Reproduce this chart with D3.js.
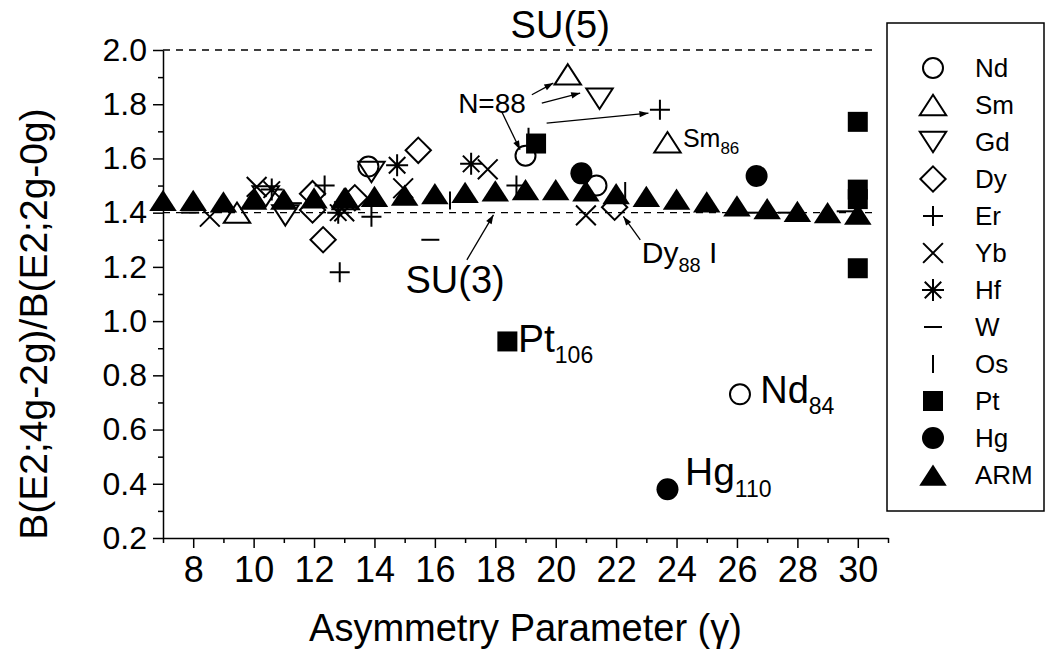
<!DOCTYPE html>
<html>
<head>
<meta charset="utf-8">
<script src="https://cdn.jsdelivr.net/npm/d3@7"></script>
<style>
  body { margin: 0; background: #fff; }
  svg { display: block; font-family: "Liberation Sans", Arial, sans-serif; }
</style>
</head>
<body>
<svg id="chart" width="1056" height="662"></svg>
<script>
// ---- data ----
const X_MAJOR = [8, 10, 12, 14, 16, 18, 20, 22, 24, 26, 28, 30];
const X_MINOR = [7, 9, 11, 13, 15, 17, 19, 21, 23, 25, 27, 29, 31];
const Y_MAJOR = [0.2, 0.4, 0.6, 0.8, 1.0, 1.2, 1.4, 1.6, 1.8, 2.0];
const Y_MINOR = [0.3, 0.5, 0.7, 0.9, 1.1, 1.3, 1.5, 1.7, 1.9];

const ndPts = [[13.8, 1.57], [19.0, 1.61], [21.35, 1.50], [26.1, 0.73]];
const smPts = [[9.45, 1.40], [13.05, 1.45], [20.4, 1.91], [23.7, 1.66]];
const gdPts = [[10.4, 1.46], [11.05, 1.39], [13.9, 1.55], [21.45, 1.82]];
const dyPts = [[11.95, 1.47], [11.95, 1.41], [12.3, 1.30], [13.35, 1.455], [15.45, 1.63], [21.95, 1.42]];
const erPts = [[12.35, 1.50], [12.85, 1.18], [13.9, 1.385], [18.7, 1.50], [23.45, 1.78]];
const ybPts = [[8.55, 1.385], [10.1, 1.495], [13.0, 1.405], [14.95, 1.49], [17.75, 1.56], [21.0, 1.39]];
const hfPts = [[10.6, 1.485], [12.8, 1.40], [14.75, 1.575], [17.2, 1.58]];
const wPts  = [[7.9, 1.40], [11.3, 1.435], [15.85, 1.30], [26.4, 1.40], [27.65, 1.40], [29.6, 1.405]];
const osPts = [[16.5, 1.445], [19.1, 1.68], [22.3, 1.48]];
const ptPts = [[18.4, 0.925], [19.35, 1.655], [30, 1.735], [30, 1.485], [30, 1.45], [30, 1.195]];
const hgPts = [[20.85, 1.545], [23.7, 0.38], [26.65, 1.535]];

const armX = [7, 8, 9, 10, 11, 12, 13, 14, 15, 16, 17, 18, 19, 20, 21, 22, 23, 24, 25, 26, 27, 28, 29, 30];
const armY = [1.445, 1.445, 1.44, 1.45, 1.45, 1.455, 1.455, 1.46, 1.465, 1.47, 1.475, 1.48,
              1.485, 1.485, 1.48, 1.47, 1.46, 1.45, 1.44, 1.425, 1.415, 1.405, 1.40, 1.395];

const SU5 = 2.0, SU3 = 1.4;

// ---- layout ----
const svg = d3.select('#chart');
const x = d3.scaleLinear().domain([7, 31]).range([163, 888]);
const y = d3.scaleLinear().domain([0.2, 2.0]).range([538, 50]);

// symbol paths, centred on 0,0
const SHAPES = {
  circle:  r => `M${r},0A${r},${r} 0 1,1 ${-r},0A${r},${r} 0 1,1 ${r},0Z`,
  triUp:   r => `M0,${-r * 0.85}L${r * 1.1},${r * 0.85}L${-r * 1.1},${r * 0.85}Z`,
  triDown: r => `M0,${r * 0.85}L${r * 1.1},${-r * 0.85}L${-r * 1.1},${-r * 0.85}Z`,
  diamond: r => `M0,${-r * 1.15}L${r * 1.15},0L0,${r * 1.15}L${-r * 1.15},0Z`,
  plus:    r => `M${-r},0H${r}M0,${-r}V${r}`,
  cross:   r => { const a = r * 0.9; return `M${-a},${-a}L${a},${a}M${-a},${a}L${a},${-a}`; },
  star:    r => { const a = r * 0.75; return `M${-r},0H${r}M0,${-r}V${r}M${-a},${-a}L${a},${a}M${-a},${a}L${a},${-a}`; },
  dash:    r => `M${-r * 0.9},0H${r * 0.9}`,
  bar:     r => `M0,${-r * 0.9}V${r * 0.9}`,
  square:  r => `M${-r},${-r}h${2 * r}v${2 * r}h${-2 * r}Z`
};

const series = [
  { name: 'Nd',  pts: ndPts, shape: 'circle',  r: 10,  fill: false },
  { name: 'Sm',  pts: smPts, shape: 'triUp',   r: 12,  fill: false },
  { name: 'Gd',  pts: gdPts, shape: 'triDown', r: 12,  fill: false },
  { name: 'Dy',  pts: dyPts, shape: 'diamond', r: 11,  fill: false },
  { name: 'Er',  pts: erPts, shape: 'plus',    r: 10,  fill: false },
  { name: 'Yb',  pts: ybPts, shape: 'cross',   r: 11,  fill: false },
  { name: 'Hf',  pts: hfPts, shape: 'star',    r: 11,  fill: false },
  { name: 'W',   pts: wPts,  shape: 'dash',    r: 10,  fill: false },
  { name: 'Os',  pts: osPts, shape: 'bar',     r: 10,  fill: false },
  { name: 'Pt',  pts: ptPts, shape: 'square',  r: 10,  fill: true },
  { name: 'Hg',  pts: hgPts, shape: 'circle',  r: 11,  fill: true },
  { name: 'ARM', pts: armX.map((v, i) => [v, armY[i]]), shape: 'triUp', r: 12.5, fill: true }
];

function styleMark(sel, s) {
  sel.attr('d', SHAPES[s.shape](s.r))
    .attr('fill', s.fill ? '#000' : 'none')
    .attr('stroke', '#000')
    .attr('stroke-width', s.fill ? 0 : 2);
}

// arrow head
svg.append('defs').append('marker')
  .attr('id', 'arr')
  .attr('viewBox', '0 0 10 10')
  .attr('refX', 10).attr('refY', 5)
  .attr('markerWidth', 11).attr('markerHeight', 9)
  .attr('markerUnits', 'userSpaceOnUse')
  .attr('orient', 'auto')
  .append('path').attr('d', 'M0,1.5L10,5L0,8.5Z').attr('fill', '#000');

// reference lines SU(5) and SU(3)
[SU5, SU3].forEach(v => {
  svg.append('line')
    .attr('x1', x(7)).attr('x2', x(30.5))
    .attr('y1', y(v)).attr('y2', y(v))
    .attr('stroke', '#000').attr('stroke-width', 1.3)
    .attr('stroke-dasharray', '7,6');
});

// axes
const xAxis = svg.append('g').attr('transform', `translate(0,${y(0.2)})`)
  .call(d3.axisBottom(x).tickValues(X_MAJOR).tickSize(10).tickSizeOuter(0).tickPadding(8).tickFormat(d3.format('d')));
svg.append('g').attr('transform', `translate(0,${y(0.2)})`)
  .call(d3.axisBottom(x).tickValues(X_MINOR).tickSize(5).tickSizeOuter(0).tickFormat(''))
  .select('.domain').remove();
xAxis.selectAll('text').style('font-size', '36px').attr('fill', '#000');

const yAxis = svg.append('g').attr('transform', `translate(${x(7)},0)`)
  .call(d3.axisLeft(y).tickValues(Y_MAJOR).tickSize(10).tickSizeOuter(0).tickPadding(6).tickFormat(d3.format('.1f')));
svg.append('g').attr('transform', `translate(${x(7)},0)`)
  .call(d3.axisLeft(y).tickValues(Y_MINOR).tickSize(5).tickSizeOuter(0).tickFormat(''))
  .select('.domain').remove();
yAxis.selectAll('text').style('font-size', '32px').attr('fill', '#000');

svg.selectAll('.domain, .tick line').attr('stroke', '#000').attr('stroke-width', 1.5);

// axis titles
svg.append('text')
  .attr('x', (x(7) + x(31)) / 2).attr('y', 641)
  .attr('text-anchor', 'middle').style('font-size', '38px')
  .text('Asymmetry Parameter (γ)');

svg.append('text')
  .attr('transform', 'translate(47,324) rotate(-90)')
  .attr('text-anchor', 'middle').style('font-size', '39px')
  .text('B(E2;4g-2g)/B(E2;2g-0g)');

// points
series.forEach(s => {
  svg.append('g').selectAll('path')
    .data(s.pts)
    .join('path')
    .attr('transform', d => `translate(${x(d[0])},${y(d[1])})`)
    .call(styleMark, s);
});

// annotations
function label(xv, yv, main, sub, size, subSize, extra) {
  const t = svg.append('text')
    .attr('x', x(xv)).attr('y', y(yv))
    .style('font-size', size + 'px');
  t.append('tspan').text(main);
  if (sub) t.append('tspan').attr('dy', size * 0.3).style('font-size', subSize + 'px').text(sub);
  if (extra) t.append('tspan').attr('dy', -size * 0.3).text(extra);
  return t;
}

function arrow(x1, y1, x2, y2) {
  svg.append('line')
    .attr('x1', x(x1)).attr('y1', y(y1))
    .attr('x2', x(x2)).attr('y2', y(y2))
    .attr('stroke', '#000').attr('stroke-width', 1.3)
    .attr('marker-end', 'url(#arr)');
}

svg.append('text').attr('x', x(20.15)).attr('y', y(2.045))
  .attr('text-anchor', 'middle').style('font-size', '38px').text('SU(5)');
svg.append('text').attr('x', x(16.67)).attr('y', y(1.104))
  .attr('text-anchor', 'middle').style('font-size', '38px').text('SU(3)');
arrow(17.06, 1.226, 17.94, 1.392);

label(16.77, 1.768, 'N=88', null, 28);
arrow(18.21, 1.773, 18.82, 1.632);
arrow(19.21, 1.835, 19.92, 1.878);
arrow(19.54, 1.804, 20.81, 1.841);
arrow(19.7, 1.73, 23.07, 1.767);

label(24.21, 1.643, 'Sm', '86', 25, 17);
label(22.85, 1.215, 'Dy', '88', 30, 20, ' I');
arrow(22.8, 1.30, 22.24, 1.386);
label(18.75, 0.887, 'Pt', '106', 39, 23);
label(26.77, 0.698, 'Nd', '84', 38, 23);
label(24.28, 0.396, 'Hg', '110', 39, 23);

// legend
const LEG_X = 887, LEG_Y = 23, LEG_W = 157, LEG_H = 488;
const leg = svg.append('g');
leg.append('rect')
  .attr('x', LEG_X).attr('y', LEG_Y).attr('width', LEG_W).attr('height', LEG_H)
  .attr('fill', '#fff').attr('stroke', '#000').attr('stroke-width', 1.5);
const ly = d3.scalePoint().domain(series.map(s => s.name)).range([68, 475]);
series.forEach(s => {
  leg.append('path')
    .attr('transform', `translate(${LEG_X + 46},${ly(s.name)})`)
    .call(styleMark, s);
  leg.append('text')
    .attr('x', LEG_X + 88).attr('y', ly(s.name)).attr('dy', '0.36em')
    .style('font-size', '26px').text(s.name);
});
</script>
</body>
</html>
